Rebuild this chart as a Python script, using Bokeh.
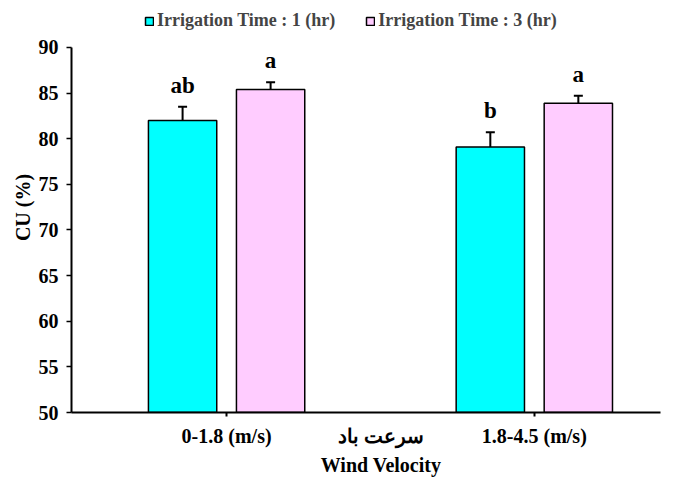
from bokeh.plotting import figure
from bokeh.models import ColumnDataSource, Whisker, Legend, LegendItem, FixedTicker, Range1d
from bokeh.embed import file_html
from bokeh.resources import INLINE
from bokeh.core.properties import value

categories = ["0-1.8 (m/s)", "1.8-4.5 (m/s)"]
series_names = ["Irrigation Time : 1 (hr)", "Irrigation Time : 3 (hr)"]
cu_1hr = [82.0, 79.1]
cu_3hr = [85.4, 83.9]
err_1hr = [1.5, 1.6]
err_3hr = [0.8, 0.8]
letters_1hr = ["ab", "b"]
letters_3hr = ["a", "a"]
colors = ["#00FFFF", "#FFCCFF"]
y_ticks = [50, 55, 60, 65, 70, 75, 80, 85, 90]
x_title_fa = "سرعت باد"
x_title_en = "Wind Velocity"
y_title = "CU (%)"

pos = [1, 2]
off = 0.143
bw = 0.222

FONT = "Liberation Serif"
PAD = "\u00a0" * 6

p = figure(width=681, height=479, output_backend="svg", toolbar_location=None,
           x_range=Range1d(0.496, 2.41), y_range=Range1d(50, 94.93),
           min_border_left=71, min_border_right=21, min_border_top=2, min_border_bottom=67)
p.outline_line_color = None
p.xgrid.grid_line_color = None
p.ygrid.grid_line_color = None

renderers = []
for vals, errs, lets, col, sgn in [(cu_1hr, err_1hr, letters_1hr, colors[0], -1),
                                   (cu_3hr, err_3hr, letters_3hr, colors[1], 1)]:
    xs = [x + sgn * off for x in pos]
    src = ColumnDataSource(dict(x=xs, top=vals,
                                upper=[v + e for v, e in zip(vals, errs)],
                                lower=[v - e for v, e in zip(vals, errs)],
                                lab=lets))
    r = p.vbar(x="x", top="top", bottom=50, width=bw, source=src, fill_color=col,
               line_color="black", line_width=1.5)
    renderers.append(r)
    w = Whisker(source=src, base="x", upper="upper", lower="lower",
                line_color="black", line_width=2)
    w.upper_head.size = 9
    w.lower_head.size = 9
    w.upper_head.line_width = 2
    w.lower_head.line_width = 2
    p.add_layout(w)
    p.text(x="x", y="upper", text="lab", source=src, text_align="center",
           text_baseline="bottom", y_offset=-9, text_font=value(FONT),
           text_font_style="bold", text_font_size="23px", text_color="black")

legend = Legend(items=[LegendItem(label=series_names[0], renderers=[renderers[0]]),
                       LegendItem(label=series_names[1], renderers=[renderers[1]])],
                orientation="horizontal", location=(73, 381),
                label_text_font=FONT, label_text_font_style="bold",
                label_text_font_size="18px", glyph_width=10, glyph_height=10,
                spacing=30, label_standoff=3, border_line_color=None,
                background_fill_alpha=0, padding=2, margin=0)
p.add_layout(legend)

p.xaxis.ticker = FixedTicker(ticks=pos)
p.xaxis.major_label_overrides = {pos[i]: categories[i] for i in range(2)}
p.xaxis.minor_tick_line_color = None
p.xaxis.major_tick_in = 0
p.xaxis.major_tick_out = 4
p.xaxis.axis_line_width = 2
p.xaxis.axis_line_color = "black"
p.xaxis.major_tick_line_width = 2
p.xaxis.major_label_text_font = FONT
p.xaxis.major_label_text_font_style = "bold"
p.xaxis.major_label_text_font_size = "20px"
p.xaxis.major_label_text_color = "black"
p.xaxis.major_label_standoff = 8
p.xaxis.axis_label = PAD + x_title_fa + "\n" + PAD + x_title_en
p.xaxis.axis_label_text_font = FONT
p.xaxis.axis_label_text_font_style = "bold"
p.xaxis.axis_label_text_font_size = "20px"
p.xaxis.axis_label_text_color = "black"
p.xaxis.axis_label_text_line_height = 1.35
p.xaxis.axis_label_standoff = -25

p.yaxis.ticker = FixedTicker(ticks=y_ticks)
p.yaxis.bounds = (50, 90)
p.yaxis.minor_tick_line_color = None
p.yaxis.major_tick_in = 0
p.yaxis.major_tick_out = 5
p.yaxis.axis_line_width = 2
p.yaxis.axis_line_color = "black"
p.yaxis.major_tick_line_width = 1.5
p.yaxis.major_label_text_font = FONT
p.yaxis.major_label_text_font_style = "bold"
p.yaxis.major_label_text_font_size = "20px"
p.yaxis.major_label_text_color = "black"
p.yaxis.major_label_standoff = 8
p.yaxis.axis_label = y_title
p.yaxis.axis_label_text_font = FONT
p.yaxis.axis_label_text_font_style = "bold"
p.yaxis.axis_label_text_font_size = "20px"
p.yaxis.axis_label_text_color = "black"
p.yaxis.axis_label_standoff = 2

open("out.html", "w").write(file_html(p, INLINE))
